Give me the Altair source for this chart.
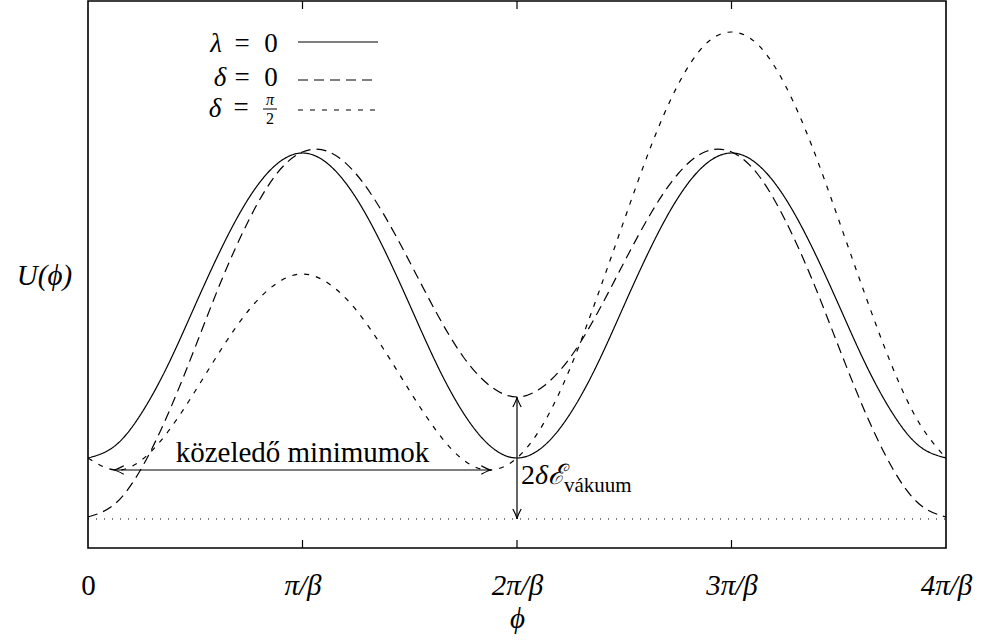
import altair as alt
import pandas as pd

# Field position phi in units of pi/beta
phi = [0.0, 0.125, 0.25, 0.375, 0.5, 0.625, 0.75, 0.875,
       1.0, 1.125, 1.25, 1.375, 1.5, 1.625, 1.75, 1.875,
       2.0, 2.125, 2.25, 2.375, 2.5, 2.625, 2.75, 2.875,
       3.0, 3.125, 3.25, 3.375, 3.5, 3.625, 3.75, 3.875, 4.0]

# Potential U(phi) for the three cases
u_lambda0 = [0.61, 0.73, 1.06, 1.55, 2.14, 2.72, 3.21, 3.54,
             3.66, 3.54, 3.21, 2.72, 2.14, 1.55, 1.06, 0.73,
             0.61, 0.73, 1.06, 1.55, 2.14, 2.72, 3.21, 3.54,
             3.66, 3.54, 3.21, 2.72, 2.14, 1.55, 1.06, 0.73, 0.61]
u_delta0 = [0.02, 0.15, 0.51, 1.06, 1.72, 2.40, 2.99, 3.44,
            3.67, 3.67, 3.45, 3.06, 2.57, 2.06, 1.62, 1.33,
            1.22, 1.33, 1.62, 2.06, 2.57, 3.06, 3.45, 3.67,
            3.67, 3.44, 2.99, 2.40, 1.72, 1.06, 0.51, 0.15, 0.02]
u_delta_half_pi = [0.61, 0.49, 0.59, 0.88, 1.28, 1.71, 2.09, 2.35,
                   2.45, 2.35, 2.09, 1.71, 1.28, 0.88, 0.59, 0.49,
                   0.61, 0.96, 1.52, 2.23, 2.99, 3.73, 4.34, 4.74,
                   4.87, 4.74, 4.34, 3.73, 2.99, 2.23, 1.52, 0.96, 0.61]

series_names = ["lambda0", "delta0", "deltaHalfPi"]
dash_styles = [[1, 0], [10, 6], [5, 7]]

tick_values = [0, 1, 2, 3, 4]
tick_labels = ["0", "π/β", "2π/β", "3π/β", "4π/β"]
inner_ticks = [1, 2, 3]

# Vacuum energy gap at phi = 2pi/beta, and the approaching minima
gap_phi = 2.0
gap_low, gap_high = 0.0, 1.22
minima_left, minima_right, minima_level = 0.12, 1.88, 0.49

FONT = "'Liberation Serif', 'DejaVu Serif', 'Times New Roman', serif"
W, H = 858, 547

rows = []
for name, vals in zip(series_names, [u_lambda0, u_delta0, u_delta_half_pi]):
    for p, u in zip(phi, vals):
        rows.append({"phi": p, "U": u, "series": name})
curves = pd.DataFrame(rows)

x_scale = alt.Scale(domain=[0, 4], nice=False, zero=False)
y_scale = alt.Scale(domain=[-0.29, 5.18], nice=False, zero=False)

label_expr = "[" + ",".join(f"'{t}'" for t in tick_labels) + "][datum.value]"

x_enc = alt.X("phi:Q", scale=x_scale, axis=alt.Axis(
    values=tick_values, labelExpr=label_expr, ticks=False, domain=False, grid=False,
    labelFlush=False, labelOverlap=False, labelBound=False,
    labelFont=FONT, labelFontSize=29,
    labelFontStyle=alt.condition("datum.value == 0", alt.value("normal"), alt.value("italic")),
    labelColor="black",
    labelPadding=23, title="ϕ", titleFont=FONT, titleFontSize=29,
    titleFontStyle="italic", titleFontWeight="normal", titleColor="black",
    titlePadding=4))
y_enc = alt.Y("U:Q", scale=y_scale, axis=alt.Axis(
    labels=False, ticks=False, domain=False, grid=False, title="U(ϕ)",
    titleAngle=0, titleX=-44, titleY=274, titleAlign="center",
    titleBaseline="middle", titleFont=FONT, titleFontSize=29,
    titleFontStyle="italic", titleFontWeight="normal", titleColor="black"))

lines = alt.Chart(curves).mark_line(
    interpolate="natural", color="black", strokeWidth=1.2
).encode(
    x=x_enc, y=y_enc,
    strokeDash=alt.StrokeDash("series:N", scale=alt.Scale(domain=series_names, range=dash_styles), legend=None),
)

# dotted zero level
baseline = alt.Chart(pd.DataFrame({"phi": [0, 4], "U": [0, 0]})).mark_line(
    color="black", strokeWidth=1.2, strokeDash=[1, 7]
).encode(x=x_enc, y=y_enc)

# inward ticks on bottom and top frame
ticks_bottom = alt.Chart(pd.DataFrame({"phi": inner_ticks})).mark_rule(
    color="black", strokeWidth=1.2
).encode(x=x_enc, y=alt.value(H), y2=alt.value(H - 8))
ticks_top = alt.Chart(pd.DataFrame({"phi": inner_ticks})).mark_rule(
    color="black", strokeWidth=1.2
).encode(x=x_enc, y=alt.value(0), y2=alt.value(8))

# horizontal double arrow between the approaching minima
h_arrow = alt.Chart(pd.DataFrame({
    "phi": [minima_left], "phi2": [minima_right], "U": [minima_level]
})).mark_rule(color="black", strokeWidth=1.2).encode(x=x_enc, x2="phi2:Q", y=y_enc)

# vertical double arrow for the energy gap
v_arrow = alt.Chart(pd.DataFrame({
    "phi": [gap_phi], "U": [gap_low], "U2": [gap_high]
})).mark_rule(color="black", strokeWidth=1.2).encode(x=x_enc, y=y_enc, y2="U2:Q")

ARROW = "M -1 -0.42 Q -0.35 -0.06 0 0 Q -0.35 0.06 -1 0.42"
heads = pd.DataFrame({
    "phi": [minima_left, minima_right, gap_phi, gap_phi],
    "U": [minima_level, minima_level, gap_high, gap_low],
    "rot": [180, 0, 270, 90],
})
arrow_heads = alt.Chart(heads).mark_point(
    shape=ARROW, size=400, filled=False, color="black", strokeWidth=1.2, opacity=1
).encode(x=x_enc, y=y_enc, angle=alt.Angle("rot:Q", scale=None))

minima_text = alt.Chart(pd.DataFrame({"phi": [1.0], "U": [0.575], "t": ["közeledő minimumok"]})).mark_text(
    font=FONT, fontSize=29, color="black", align="center", baseline="alphabetic"
).encode(x=x_enc, y=y_enc, text="t:N")

dummy = pd.DataFrame({"k": [0]})


def label(txt, px, py, size=27, style="normal", align="center"):
    return alt.Chart(dummy).mark_text(
        text=txt, font=FONT, fontSize=size, fontStyle=style, color="black",
        align=align, baseline="alphabetic"
    ).encode(x=alt.value(px - 88), y=alt.value(py - 1))


def sample(px0, px1, py, dash):
    return alt.Chart(dummy).mark_rule(color="black", strokeWidth=1.2, strokeDash=dash).encode(
        x=alt.value(px0 - 88), x2=alt.value(px1 - 88), y=alt.value(py - 1))


gap_label = [
    label("2", 521, 484, size=28, align="left"),
    label("δℰ", 535, 484, size=28, style="italic", align="left"),
    label("vákuum", 564, 492, size=21, align="left"),
]

legend_layers = [
    label("λ", 216, 52, style="italic"), label("=", 242, 52), label("0", 271, 52),
    sample(298, 378, 42, dash_styles[0]),
    label("δ", 220, 86, style="italic"), label("=", 242, 86), label("0", 271, 86),
    sample(298, 378, 80, dash_styles[1]),
    label("δ", 215, 117, style="italic"), label("=", 241, 116),
    label("π", 270, 105, size=16, style="italic"), label("2", 270, 124, size=16),
    sample(263, 277, 109, [1, 0]),
    sample(298, 378, 110, dash_styles[2]),
]

chart = alt.layer(
    baseline, lines, ticks_bottom, ticks_top, h_arrow, v_arrow, arrow_heads,
    minima_text, *gap_label, *legend_layers
).properties(
    width=W, height=H,
    padding={"left": 88, "top": 1, "right": 35, "bottom": 92},
    autosize=alt.AutoSizeParams(type="none"),
    background="white",
).configure_view(stroke="black", strokeWidth=1.6)

chart.save("out.html", embed_options={"renderer": "svg", "actions": False})
